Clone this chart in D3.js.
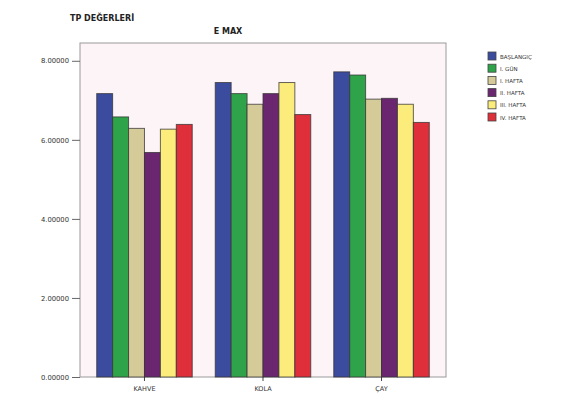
<!DOCTYPE html>
<html>
<head>
<meta charset="utf-8">
<script src="https://cdn.jsdelivr.net/npm/d3@7"></script>
<style>
  html, body { margin: 0; padding: 0; background: #ffffff; }
  svg { display: block; }
  text { font-family: "DejaVu Sans", Arial, sans-serif; }
</style>
</head>
<body>
<svg id="chart" width="564" height="397"></svg>
<script>
// Drinks on the x axis
const categories = ["KAHVE", "KOLA", "ÇAY"];
// Measurement times (legend series)
const seriesNames = ["BAŞLANGIÇ", "I. GÜN", "I. HAFTA", "II. HAFTA", "III. HAFTA", "IV. HAFTA"];
const seriesColors = ["#3b4c9f", "#2fa34a", "#d5cb98", "#6a2770", "#fbec7c", "#de2f3a"];
// E MAX values, one array per drink, in series order
const kahveValues = [7.17, 6.58, 6.29, 5.68, 6.27, 6.39];
const kolaValues = [7.45, 7.17, 6.90, 7.17, 7.45, 6.64];
const cayValues = [7.72, 7.64, 7.03, 7.05, 6.90, 6.44];
const yTicks = [0, 2, 4, 6, 8];

const valuesByCategory = [kahveValues, kolaValues, cayValues];
const rows = categories.map((c, i) => ({ category: c, values: valuesByCategory[i] }));

const svg = d3.select("#chart");
const plot = { left: 80, right: 446, top: 43, bottom: 377 };

const x0 = d3.scaleBand().domain(categories).range([plot.left, plot.right])
  .paddingInner(0.194).paddingOuter(0.141);
const x1 = d3.scaleBand().domain(seriesNames).range([0, x0.bandwidth()]);
const y = d3.scaleLinear().domain([0, 8.45]).range([plot.bottom, plot.top]);

// plot background and frame
svg.append("rect")
  .attr("x", plot.left).attr("y", plot.top)
  .attr("width", plot.right - plot.left).attr("height", plot.bottom - plot.top)
  .attr("fill", "#fdf4f7").attr("stroke", "#9a9a9a").attr("stroke-width", 1);

// titles
svg.append("text").attr("x", 70).attr("y", 21)
  .attr("font-size", 8).attr("font-weight", "bold").attr("fill", "#222")
  .text("TP DEĞERLERİ");
svg.append("text").attr("x", (plot.left + plot.right) / 2 - 35).attr("y", 34)
  .attr("text-anchor", "middle")
  .attr("font-size", 8).attr("font-weight", "bold").attr("fill", "#222")
  .text("E MAX");

// y axis
const yAxis = d3.axisLeft(y).tickValues(yTicks).tickSize(8)
  .tickFormat(d3.format(".5f"));
const yg = svg.append("g").attr("transform", `translate(${plot.left},0)`).call(yAxis);
yg.select(".domain").remove();
yg.selectAll(".tick line").attr("stroke", "#666");
yg.selectAll(".tick text").attr("font-size", 6.8).attr("fill", "#333")
  .attr("font-family", "DejaVu Sans, sans-serif");

// x axis
const xAxis = d3.axisBottom(x0).tickSize(4);
const xg = svg.append("g").attr("transform", `translate(0,${plot.bottom})`).call(xAxis);
xg.select(".domain").remove();
xg.selectAll(".tick line").attr("stroke", "#444");
xg.selectAll(".tick text").attr("font-size", 6.5).attr("fill", "#333")
  .attr("dy", "1.1em")
  .attr("font-family", "DejaVu Sans, sans-serif");

// bars
const groups = svg.append("g").selectAll("g").data(rows).join("g")
  .attr("transform", d => `translate(${x0(d.category)},0)`);
groups.selectAll("rect")
  .data(d => d.values.map((v, i) => ({ name: seriesNames[i], value: v, color: seriesColors[i] })))
  .join("rect")
  .attr("x", d => x1(d.name))
  .attr("y", d => y(d.value))
  .attr("width", x1.bandwidth())
  .attr("height", d => y(0) - y(d.value))
  .attr("fill", d => d.color)
  .attr("stroke", "#333")
  .attr("stroke-opacity", 0.75)
  .attr("stroke-width", 1);

// legend
const legend = svg.append("g").attr("transform", "translate(488,52)");
const item = legend.selectAll("g").data(seriesNames).join("g")
  .attr("transform", (d, i) => `translate(0,${i * 12.2})`);
item.append("rect").attr("width", 8).attr("height", 8)
  .attr("fill", (d, i) => seriesColors[i])
  .attr("stroke", "#444").attr("stroke-width", 0.8);
item.append("text").attr("x", 12).attr("y", 6.5)
  .attr("font-size", 5.5).attr("fill", "#333")
  .text(d => d);
</script>
</body>
</html>
